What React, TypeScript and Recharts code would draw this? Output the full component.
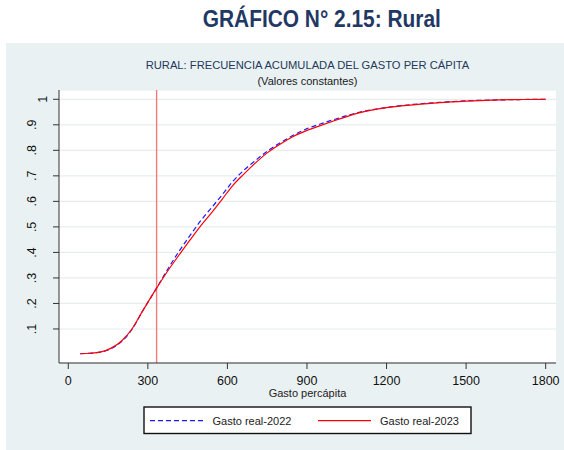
import { CartesianGrid, Label, Line, LineChart, ReferenceLine, XAxis, YAxis } from "recharts";

const gasto = [45, 80, 120, 160, 200, 240, 280, 333, 380, 420, 460, 500, 540, 580, 620, 660, 700, 750, 800, 850, 900, 950, 1000, 1100, 1200, 1300, 1400, 1500, 1600, 1700, 1800];
const real2022 = [0.003, 0.005, 0.009, 0.022, 0.05, 0.098, 0.17, 0.26, 0.343, 0.408, 0.468, 0.525, 0.575, 0.625, 0.678, 0.72, 0.755, 0.797, 0.83, 0.86, 0.885, 0.903, 0.92, 0.95, 0.968, 0.98, 0.988, 0.994, 0.997, 0.999, 1.0];
const real2023 = [0.003, 0.005, 0.009, 0.024, 0.052, 0.1, 0.17, 0.26, 0.335, 0.393, 0.45, 0.505, 0.555, 0.608, 0.662, 0.705, 0.745, 0.79, 0.825, 0.855, 0.878, 0.897, 0.915, 0.948, 0.967, 0.978, 0.987, 0.993, 0.997, 0.999, 1.0];
const xTicks = [0, 300, 600, 900, 1200, 1500, 1800];
const yTicks = [0.1, 0.2, 0.3, 0.4, 0.5, 0.6, 0.7, 0.8, 0.9, 1];
const lineaReferencia = 333;

const rows = gasto.map((g, i) => ({ gasto: g, real2022: real2022[i], real2023: real2023[i] }));

const FONT = "'Liberation Sans', Arial, sans-serif";

function YTick({ y, payload }: any) {
  const v = payload.value as number;
  const label = v === 1 ? "1" : v.toFixed(1).replace(/^0/, "");
  const bx = v === 1 ? 47 : 36;
  return (
    <text x={bx} y={y} transform={`rotate(-90 ${bx} ${y})`} textAnchor="middle" fontSize={12.5} fill="#111" fontFamily={FONT}>
      {label}
    </text>
  );
}

export default function App() {
  return (
    <div style={{ position: "absolute", left: 0, top: 0, width: 564, height: 450, background: "#fff", fontFamily: FONT }}>
      <div style={{ position: "absolute", left: 0, width: 643, top: 5, textAlign: "center", lineHeight: "28px" }}>
        <span
          style={{
            display: "inline-block",
            transform: "scaleX(0.87)",
            fontFamily: "'Liberation Sans Narrow', 'Liberation Sans', Arial, sans-serif",
            fontWeight: "bold",
            fontSize: 24,
            color: "#1f3864",
          }}
        >
          GRÁFICO N° 2.15: Rural
        </span>
      </div>
      <div style={{ position: "absolute", left: 6, top: 43, width: 558, height: 407, background: "#eaf1f3" }} />
      <div style={{ position: "absolute", left: 0, width: 615, top: 57, textAlign: "center", fontSize: 11.2, color: "#24395a", lineHeight: "16px" }}>
        RURAL: FRECUENCIA ACUMULADA DEL GASTO PER CÁPITA
      </div>
      <div style={{ position: "absolute", left: 0, width: 615, top: 73, textAlign: "center", fontSize: 11, color: "#1a1a1a", lineHeight: "16px" }}>
        (Valores constantes)
      </div>
      <div style={{ position: "absolute", left: 0, top: 0 }}>
        <LineChart width={564} height={450} data={rows} margin={{ top: 90, right: 8, bottom: 61, left: 19 }}>
          <CartesianGrid vertical={false} stroke="#e6eded" strokeWidth={1.2} fill="#ffffff" fillOpacity={1} />
          <XAxis
            dataKey="gasto"
            type="number"
            domain={[-35, 1839]}
            allowDataOverflow
            ticks={xTicks}
            height={26}
            tickSize={6}
            tickMargin={7}
            stroke="#333"
            tick={{ fontSize: 12.5, fill: "#111", fontFamily: FONT }}
          >
            <Label value="Gasto percápita" position="bottom" offset={0} fontSize={11} fill="#222" fontFamily={FONT} />
          </XAxis>
          <YAxis
            type="number"
            domain={[-0.0333, 1.0364]}
            allowDataOverflow
            ticks={yTicks}
            width={40}
            tickSize={6}
            stroke="#333"
            tick={<YTick />}
          />
          <ReferenceLine x={lineaReferencia} stroke="#f47a7c" strokeWidth={1.4} />
          <Line
            type="monotone"
            dataKey="real2022"
            stroke="#1a1aff"
            strokeWidth={1.2}
            strokeDasharray="5 3"
            dot={false}
            isAnimationActive={false}
          />
          <Line type="monotone" dataKey="real2023" stroke="#ff0000" strokeWidth={1.2} dot={false} isAnimationActive={false} />
        </LineChart>
      </div>
      <svg width={564} height={450} style={{ position: "absolute", left: 0, top: 0, pointerEvents: "none" }}>
        <rect x={144} y={407} width={327} height={26.5} fill="#fff" stroke="#111" strokeWidth={1.4} />
        <line x1={150} y1={420.7} x2={203} y2={420.7} stroke="#1a1aff" strokeWidth={1.2} strokeDasharray="5 3" />
        <text x={212.5} y={424.5} fontSize={11} fill="#222" fontFamily={FONT}>Gasto real-2022</text>
        <line x1={318} y1={420.7} x2={371} y2={420.7} stroke="#ff0000" strokeWidth={1.2} />
        <text x={380} y={424.5} fontSize={11} fill="#222" fontFamily={FONT}>Gasto real-2023</text>
      </svg>
    </div>
  );
}
